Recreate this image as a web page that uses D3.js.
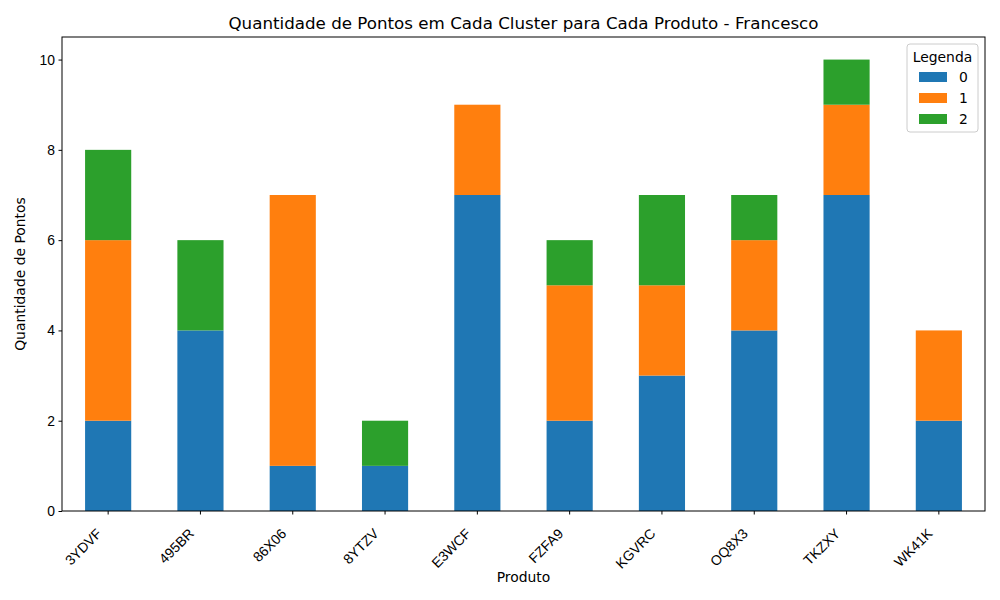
<!DOCTYPE html>
<html lang="pt">
<head>
<meta charset="UTF-8">
<script src="https://d3js.org/d3.v7.min.js"></script>
<style>
  html, body { margin: 0; padding: 0; background: #fff; }
  svg { font-family: "DejaVu Sans", sans-serif; }
  .tick text { font-size: 13.9px; fill: #000; }
  .tick line { stroke: #000; }
</style>
</head>
<body>
<svg id="chart" width="1000" height="600"></svg>
<script>
const produtos = ["3YDVF", "495BR", "86X06", "8YTZV", "E3WCF", "FZFA9", "KGVRC", "OQ8X3", "TKZXY", "WK41K"];
const cluster0 = [2, 4, 1, 1, 7, 2, 3, 4, 7, 2];
const cluster1 = [4, 0, 6, 0, 2, 3, 2, 2, 2, 2];
const cluster2 = [2, 2, 0, 1, 0, 1, 2, 1, 1, 0];
const clusters = ["0", "1", "2"];
const colors = ["#1f77b4", "#ff7f0e", "#2ca02c"];
const yTicks = [0, 2, 4, 6, 8, 10];

const margin = {top: 37, right: 15, bottom: 89, left: 62};
const W = 1000, H = 600;
const iw = W - margin.left - margin.right;
const ih = H - margin.top - margin.bottom;

const svg = d3.select("#chart");
const g = svg.append("g").attr("transform", `translate(${margin.left},${margin.top})`);

const rows = produtos.map((p, i) => ({produto: p, "0": cluster0[i], "1": cluster1[i], "2": cluster2[i]}));
const series = d3.stack().keys(clusters)(rows);

const x = d3.scaleBand().domain(produtos).range([0, iw]).paddingInner(0.5).paddingOuter(0.25);
const y = d3.scaleLinear().domain([0, 10.5]).range([ih, 0]);
const color = d3.scaleOrdinal(clusters, colors);

g.selectAll("g.layer")
  .data(series)
  .join("g")
  .attr("class", "layer")
  .attr("fill", d => color(d.key))
  .selectAll("rect")
  .data(d => d)
  .join("rect")
  .attr("x", d => x(d.data.produto))
  .attr("width", x.bandwidth())
  .attr("y", d => y(d[1]))
  .attr("height", d => y(d[0]) - y(d[1]));

const xAxis = g.append("g")
  .attr("transform", `translate(0,${ih})`)
  .call(d3.axisBottom(x).tickSize(3.5).tickPadding(3));
xAxis.select(".domain").remove();
xAxis.selectAll(".tick text")
  .attr("x", 0).attr("y", 0).attr("dy", "0.35em")
  .attr("text-anchor", "end")
  .attr("transform", "translate(-9,20) rotate(-45)");

const yAxis = g.append("g")
  .call(d3.axisLeft(y).tickValues(yTicks).tickSize(3.5).tickPadding(3.5));
yAxis.select(".domain").remove();

// frame
g.append("rect")
  .attr("width", iw).attr("height", ih)
  .attr("fill", "none").attr("stroke", "#000").attr("stroke-width", 1);

svg.append("text")
  .attr("x", margin.left + iw / 2).attr("y", 29)
  .attr("text-anchor", "middle").attr("font-size", 16.7)
  .text("Quantidade de Pontos em Cada Cluster para Cada Produto - Francesco");

svg.append("text")
  .attr("x", margin.left + iw / 2).attr("y", 582)
  .attr("text-anchor", "middle").attr("font-size", 13.9)
  .text("Produto");

svg.append("text")
  .attr("transform", `translate(25,${margin.top + ih / 2}) rotate(-90)`)
  .attr("text-anchor", "middle").attr("font-size", 13.9)
  .text("Quantidade de Pontos");

// legend
const lg = svg.append("g").attr("transform", "translate(907,44)");
lg.append("rect")
  .attr("width", 71).attr("height", 88).attr("rx", 3)
  .attr("fill", "#fff").attr("fill-opacity", 0.8)
  .attr("stroke", "#ccc");
lg.append("text")
  .attr("x", 35.5).attr("y", 18)
  .attr("text-anchor", "middle").attr("font-size", 13.9)
  .text("Legenda");
const items = lg.selectAll("g.item")
  .data(clusters)
  .join("g")
  .attr("class", "item")
  .attr("transform", (d, i) => `translate(12,${28 + i * 21})`);
items.append("rect")
  .attr("width", 28).attr("height", 10)
  .attr("fill", d => color(d));
items.append("text")
  .attr("x", 40).attr("y", 10)
  .attr("font-size", 13.9)
  .text(d => d);
</script>
</body>
</html>
